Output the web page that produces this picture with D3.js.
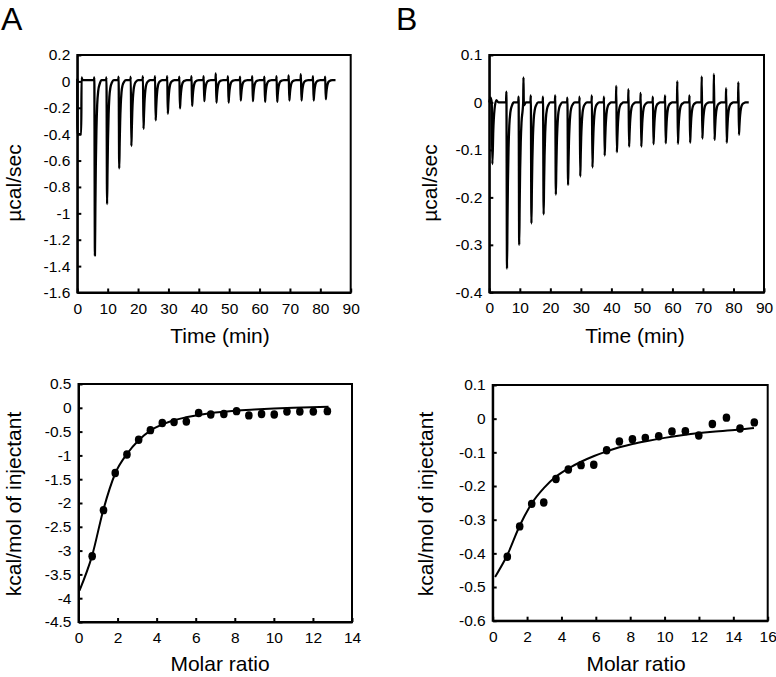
<!DOCTYPE html>
<html><head><meta charset="utf-8">
<script src="https://cdn.jsdelivr.net/npm/d3@7"></script>
<style>
html,body{margin:0;padding:0;background:#fff;}
svg text{font-family:"Liberation Sans",Arial,sans-serif;fill:#000;}
</style></head>
<body>
<svg id="c" width="776" height="677"></svg>
<script>
// ---------- DATA ----------
// Panel A thermogram
const injTimesA = [5.6, 9.6, 13.6, 17.6, 21.6, 25.6, 29.6, 33.6, 37.6, 41.6, 45.6, 49.6, 53.6, 57.6, 61.6, 65.6, 69.6, 73.6, 77.6, 81.6];
const peakDepthA = [-1.32, -0.93, -0.66, -0.49, -0.36, -0.295, -0.245, -0.205, -0.185, -0.15, -0.16, -0.16, -0.145, -0.15, -0.155, -0.155, -0.145, -0.145, -0.145, -0.135];
const spikeA = [0.03, 0.03, 0.035, 0.035, 0.04, 0.04, 0.04, 0.035, 0.04, 0.04, 0.06, 0.04, 0.035, 0.04, 0.035, 0.04, 0.045, 0.055, 0.04, 0.035];
const startSegA = [[0, 0.02], [0.05, -0.4], [1.3, -0.4], [1.4, 0.03], [1.7, 0.01]];
const baselineA = 0.01;
const traceEndA = 85;

// Panel B thermogram
const injTimesB = [5.6, 9.6, 13.6, 17.6, 21.6, 25.6, 29.6, 33.6, 37.6, 41.6, 45.6, 49.6, 53.6, 57.6, 61.6, 65.6, 69.6, 73.6, 77.6, 81.6];
const peakDepthB = [-0.35, -0.30, -0.255, -0.236, -0.194, -0.174, -0.156, -0.137, -0.112, -0.105, -0.093, -0.093, -0.088, -0.086, -0.087, -0.085, -0.076, -0.079, -0.085, -0.068];
const spikeB = [0.023, 0.012, 0.015, 0.012, 0.015, 0.01, 0.012, 0.015, 0.012, 0.035, 0.028, 0.02, 0.012, 0.015, 0.045, 0.015, 0.055, 0.06, 0.03, 0.043];
const extraSpikesB = [[11.2, 0.053]];
const startSegB = [[0, 0.0], [0.4, 0.01], [0.8, 0.0], [1.0, -0.13], [1.3, -0.06], [1.7, -0.015], [2.3, 0.005], [3, 0.0]];
const baselineB = 0.0;
const traceEndB = 85;

// recovery shape of an injection peak: [minutes after injection, fraction of depth]
const peakShape = [[0.2, 1], [0.35, 0.72], [0.5, 0.48], [0.7, 0.28], [0.95, 0.14], [1.3, 0.06], [1.8, 0.02], [2.4, 0]];

// Panel A binding isotherm
const molarA = [0.70, 1.28, 1.88, 2.48, 3.08, 3.68, 4.29, 4.89, 5.52, 6.15, 6.77, 7.44, 8.09, 8.72, 9.37, 10.02, 10.67, 11.33, 12.02, 12.74];
const heatA = [-3.12, -2.15, -1.37, -0.98, -0.67, -0.47, -0.32, -0.30, -0.29, -0.11, -0.14, -0.13, -0.07, -0.16, -0.13, -0.14, -0.08, -0.08, -0.08, -0.07];
const fitXA = [0.05, 0.7, 1.28, 1.88, 2.48, 3.08, 3.68, 4.29, 4.89, 5.5, 6.15, 7.0, 8.0, 9.0, 10.0, 11.0, 12.8];
const fitYA = [-3.84, -3.1, -2.13, -1.38, -0.97, -0.68, -0.48, -0.35, -0.26, -0.2, -0.15, -0.1, -0.06, -0.035, -0.015, 0.0, 0.02];

// Panel B binding isotherm
const molarB = [0.85, 1.57, 2.27, 2.97, 3.68, 4.40, 5.14, 5.88, 6.63, 7.37, 8.13, 8.88, 9.66, 10.43, 11.21, 11.99, 12.78, 13.60, 14.39, 15.22];
const heatB = [-0.41, -0.32, -0.253, -0.249, -0.179, -0.151, -0.138, -0.137, -0.094, -0.068, -0.061, -0.057, -0.052, -0.038, -0.037, -0.050, -0.016, 0.003, -0.029, -0.011];
const fitXB = [0.14, 0.85, 1.57, 2.27, 3.0, 3.68, 4.4, 5.14, 5.9, 6.63, 7.37, 8.13, 9.0, 10.0, 11.2, 12.8, 14.4, 15.2];
const fitYB = [-0.47, -0.405, -0.318, -0.252, -0.205, -0.172, -0.148, -0.128, -0.111, -0.097, -0.085, -0.075, -0.066, -0.057, -0.048, -0.039, -0.032, -0.028];

// Ticks
const timeTicks = [0, 10, 20, 30, 40, 50, 60, 70, 80, 90];
const yTicksTA = [0.2, 0, -0.2, -0.4, -0.6, -0.8, -1, -1.2, -1.4, -1.6];
const yTicksTB = [0.1, 0, -0.1, -0.2, -0.3, -0.4];
const xTicksBA = [0, 2, 4, 6, 8, 10, 12, 14];
const yTicksBA = [0.5, 0, -0.5, -1, -1.5, -2, -2.5, -3, -3.5, -4, -4.5];
const xTicksBB = [0, 2, 4, 6, 8, 10, 12, 14, 16];
const yTicksBB = [0.1, 0, -0.1, -0.2, -0.3, -0.4, -0.5, -0.6];

// ---------- DRAWING ----------
const svg = d3.select("#c");
const fmt = d => String(+(+d).toFixed(2));

function panel(o) {
  const x = d3.scaleLinear().domain(o.xd).range([o.l, o.r]);
  const y = d3.scaleLinear().domain(o.yd).range([o.b, o.t]);
  const g = svg.append("g");
  g.append("g").attr("transform", `translate(0,${o.b})`)
    .call(d3.axisBottom(x).tickValues(o.xt).tickFormat(fmt).tickSizeInner(-4).tickSizeOuter(0).tickPadding(10))
    .call(a => a.selectAll("text").style("font-size", "15.5px"));
  g.append("g").attr("transform", `translate(${o.l},0)`)
    .call(d3.axisLeft(y).tickValues(o.yt).tickFormat(fmt).tickSizeInner(-4).tickSizeOuter(0).tickPadding(7))
    .call(a => a.selectAll("text").style("font-size", "15.5px"));
  g.selectAll(".domain, .tick line").attr("stroke", "#000").attr("stroke-width", 2);
  g.append("rect").attr("x", o.l).attr("y", o.t).attr("width", o.r - o.l).attr("height", o.b - o.t)
    .attr("fill", "none").attr("stroke", "#000").attr("stroke-width", 2);
  g.append("text").attr("x", o.xtx).attr("y", o.xty).attr("text-anchor", "middle")
    .style("font-size", "21px").text(o.xtitle);
  g.append("text").attr("transform", `translate(${o.ytx},${o.yty}) rotate(-90)`).attr("text-anchor", "middle")
    .style("font-size", "21px").text(o.ytitle);
  return {x, y, g};
}

function buildTrace(startSeg, times, depths, spikes, extra, base, end) {
  const pts = startSeg.map(p => p.slice());
  times.forEach((t, i) => {
    pts.push([t - 0.12, base]);
    pts.push([t, spikes[i]]);
    peakShape.forEach(([o, f]) => pts.push([t + o, base + (depths[i] - base) * f]));
  });
  extra.forEach(([t, v]) => { pts.push([t - 0.1, base]); pts.push([t, v]); pts.push([t + 0.1, base]); });
  pts.push([end, base]);
  pts.sort((a, b) => a[0] - b[0]);
  return pts;
}

// Top A
const pTA = panel({xd: [0, 90], yd: [-1.6, 0.2], l: 77.3, r: 350.7, t: 55, b: 292.5, xt: timeTicks, yt: yTicksTA,
  xtitle: "Time (min)", xtx: 220, xty: 343, ytitle: "µcal/sec", ytx: 21, yty: 183});
const trA = buildTrace(startSegA, injTimesA, peakDepthA, spikeA, [], baselineA, traceEndA);
pTA.g.append("path").datum(trA).attr("fill", "none").attr("stroke", "#000").attr("stroke-width", 2.3)
  .attr("stroke-linejoin", "round")
  .attr("d", d3.line().x(d => pTA.x(d[0])).y(d => pTA.y(d[1])).curve(d3.curveMonotoneX));

// Top B
const pTB = panel({xd: [0, 90], yd: [-0.4, 0.1], l: 489.3, r: 764, t: 55, b: 292.3, xt: timeTicks, yt: yTicksTB,
  xtitle: "Time (min)", xtx: 635, xty: 343, ytitle: "µcal/sec", ytx: 437, yty: 183});
const trB = buildTrace(startSegB, injTimesB, peakDepthB, spikeB, extraSpikesB, baselineB, traceEndB);
pTB.g.append("path").datum(trB).attr("fill", "none").attr("stroke", "#000").attr("stroke-width", 2.3)
  .attr("stroke-linejoin", "round")
  .attr("d", d3.line().x(d => pTB.x(d[0])).y(d => pTB.y(d[1])).curve(d3.curveMonotoneX));

// Bottom A
const pBA = panel({xd: [0, 14], yd: [-4.5, 0.5], l: 78.5, r: 352, t: 384, b: 622, xt: xTicksBA, yt: yTicksBA,
  xtitle: "Molar ratio", xtx: 220, xty: 671, ytitle: "kcal/mol of injectant", ytx: 21, yty: 504});
pBA.g.append("path").datum(fitXA.map((v, i) => [v, fitYA[i]])).attr("fill", "none").attr("stroke", "#000")
  .attr("stroke-width", 2).attr("d", d3.line().x(d => pBA.x(d[0])).y(d => pBA.y(d[1])).curve(d3.curveMonotoneX));
pBA.g.selectAll("ellipse.pt").data(molarA.map((v, i) => [v, heatA[i]])).join("ellipse")
  .attr("cx", d => pBA.x(d[0])).attr("cy", d => pBA.y(d[1])).attr("rx", 3.8).attr("ry", 4.2).attr("fill", "#000");

// Bottom B
const pBB = panel({xd: [0, 16], yd: [-0.6, 0.1], l: 492.7, r: 767.7, t: 385, b: 620.7, xt: xTicksBB, yt: yTicksBB,
  xtitle: "Molar ratio", xtx: 636, xty: 671, ytitle: "kcal/mol of injectant", ytx: 433, yty: 504});
pBB.g.append("path").datum(fitXB.map((v, i) => [v, fitYB[i]])).attr("fill", "none").attr("stroke", "#000")
  .attr("stroke-width", 2).attr("d", d3.line().x(d => pBB.x(d[0])).y(d => pBB.y(d[1])).curve(d3.curveMonotoneX));
pBB.g.selectAll("ellipse.pt").data(molarB.map((v, i) => [v, heatB[i]])).join("ellipse")
  .attr("cx", d => pBB.x(d[0])).attr("cy", d => pBB.y(d[1])).attr("rx", 3.8).attr("ry", 4.2).attr("fill", "#000");

// Panel letters
svg.append("text").attr("x", 1).attr("y", 29.5).style("font-size", "32px").text("A");
svg.append("text").attr("x", 396).attr("y", 29.5).style("font-size", "32px").text("B");
</script>
</body></html>
